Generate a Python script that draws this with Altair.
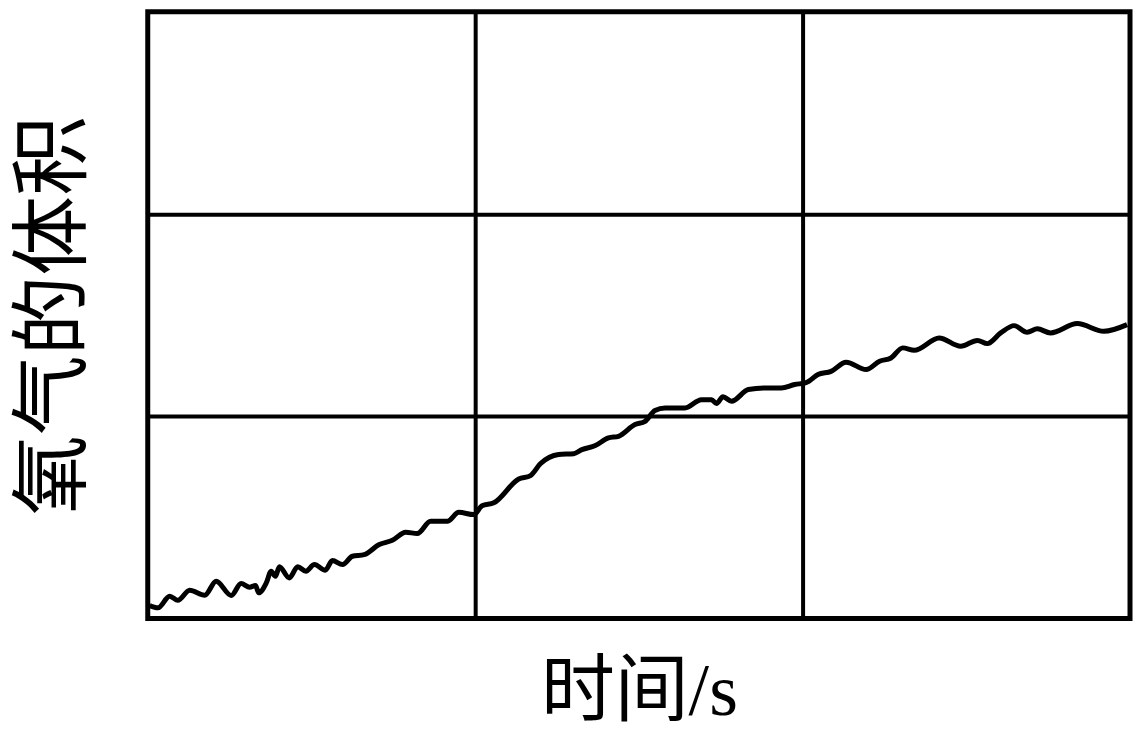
import altair as alt
import pandas as pd

# time (0..300) and oxygen volume (0..300)
time = [0.6, 3.1, 6.7, 9.2, 12.8, 17.4, 20.9, 25.5, 28.5, 31.1, 32.9, 33.9, 36.2, 37.7, 39.0,
        40.2, 43.2, 45.8, 48.3, 50.9, 54.2, 56.4, 59.5, 62.5, 66.1, 70.7, 74.7, 78.8, 82.3,
        86.4, 91.5, 95.0, 99.6, 102.1, 105.7, 113.3, 116.9, 119.9, 125.5, 130.1, 132.6,
        136.7, 140.7, 143.8, 148.8, 151.9, 154.9, 158.0, 164.1, 169.1, 172.2, 173.7, 175.7,
        178.3, 183.4, 188.4, 193.5, 197.6, 201.1, 204.7, 208.7, 213.3, 219.4, 223.5, 227.0,
        230.6, 234.1, 241.7, 248.3, 253.4, 256.4, 260.5, 264.6, 268.6, 271.7, 275.7, 283.9,
        292.0, 299.1]
volume = [6.4, 5.3, 11.0, 9.0, 14.0, 11.5, 18.4, 11.4, 17.3, 15.5, 16.3, 12.7, 17.6, 23.4,
          20.9, 25.6, 20.1, 25.6, 23.4, 26.7, 23.9, 28.7, 26.7, 30.8, 31.6, 36.6, 38.7, 42.7,
          42.0, 48.1, 48.1, 52.5, 51.4, 55.8, 57.2, 69.0, 70.7, 76.5, 81.1, 81.5, 83.5, 85.5,
          89.3, 90.1, 95.9, 97.5, 102.9, 104.1, 104.1, 108.2, 108.2, 106.3, 109.6, 107.4,
          113.2, 114.0, 114.0, 115.7, 116.6, 120.6, 122.2, 126.7, 123.1, 127.2, 128.8, 133.8,
          132.6, 138.7, 134.6, 137.5, 135.9, 141.2, 144.8, 141.5, 143.2, 141.2, 145.8, 142.0,
          145.3]
grid_values = [100, 200]

df = pd.DataFrame({"t": time, "v": volume})
FONT = "Liberation Serif, Noto Sans CJK SC"

chart = alt.Chart(df).mark_line(
    color="black", strokeWidth=5, interpolate="monotone"
).encode(
    x=alt.X("t:Q", scale=alt.Scale(domain=[0, 300], nice=False),
            axis=alt.Axis(title="时间/s", values=grid_values, labels=False, ticks=False,
                          domain=False, grid=True, gridColor="black", gridWidth=4,
                          gridOpacity=1, titleFont=FONT, titleFontSize=74,
                          titleFontWeight="normal", titleColor="black", titlePadding=38)),
    y=alt.Y("v:Q", scale=alt.Scale(domain=[0, 300], nice=False),
            axis=alt.Axis(title="氧气的体积", values=grid_values, labels=False, ticks=False,
                          domain=False, grid=True, gridColor="black", gridWidth=4,
                          gridOpacity=1, titleFont=FONT, titleFontSize=80,
                          titleFontWeight="normal", titleColor="black", titlePadding=52)),
).properties(
    width=984, height=608,
    autosize=alt.AutoSizeParams(type="none"),
    padding={"left": 140, "top": 3, "right": 5, "bottom": 120},
    background="white",
).configure_view(
    stroke="black", strokeWidth=5, strokeOpacity=1
)

chart.save("out.html", embed_options={"renderer": "svg", "actions": False})
